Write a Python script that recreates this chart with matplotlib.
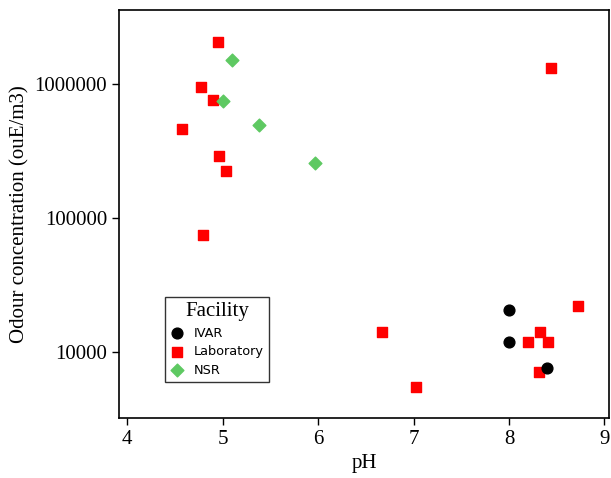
import matplotlib
matplotlib.use("Agg")
import matplotlib.pyplot as plt

# odour concentration vs pH, by facility
ivar_ph = [8.0, 8.0, 8.4]
ivar_odour = [20600, 11900, 7600]

lab_ph = [4.95, 4.77, 4.90, 4.57, 4.96, 5.03, 4.79, 8.44, 8.72, 6.67, 7.03, 8.20, 8.33, 8.41, 8.32]
lab_odour = [2060000, 950000, 760000, 460000, 289000, 223000, 74000, 1320000,
             22100, 14100, 5470, 11900, 14100, 11900, 7100]

nsr_ph = [5.10, 5.00, 5.38, 5.97]
nsr_odour = [1510000, 747000, 493000, 256000]

serif = "Liberation Serif"

fig = plt.figure(figsize=(6.11, 4.78), dpi=100)
ax = fig.add_axes([0.1948, 0.1255, 0.802, 0.853])

ax.scatter(ivar_ph, ivar_odour, marker="o", s=60, color="black", label="IVAR", zorder=3)
ax.scatter(lab_ph, lab_odour, marker="s", s=55, color="#ff0000", label="Laboratory", zorder=2)
ax.scatter(nsr_ph, nsr_odour, marker="D", s=42, color="#5ec962", label="NSR", zorder=3)

ax.set_yscale("log")
ax.set_xlim(3.913, 9.049)
ax.set_ylim(3200, 3.54e6)
ax.set_xticks([4, 5, 6, 7, 8, 9])
ax.set_yticks([10000, 100000, 1000000])
ax.set_yticklabels(["10000", "100000", "1000000"])
ax.minorticks_off()

for lab in ax.get_xticklabels() + ax.get_yticklabels():
    lab.set_fontfamily(serif)
    lab.set_fontsize(15)
ax.tick_params(length=5, width=1)
ax.set_xlabel("pH", fontfamily=serif, fontsize=15)
ax.set_ylabel("Odour concentration (ouE/m3)", fontfamily=serif, fontsize=15)
for sp in ax.spines.values():
    sp.set_linewidth(1.2)

leg = ax.legend(title="Facility", loc="upper left", bbox_to_anchor=(0.094, 0.297),
                borderaxespad=0, frameon=True, fancybox=False, edgecolor="black",
                prop={"family": "DejaVu Sans", "size": 9.3}, handletextpad=0.8,
                handlelength=1.0, labelspacing=0.42, borderpad=0.42)
leg.get_title().set_fontfamily(serif)
leg.get_title().set_fontsize(15)
leg.get_frame().set_linewidth(1.0)

fig.savefig("out.png", dpi=100)
